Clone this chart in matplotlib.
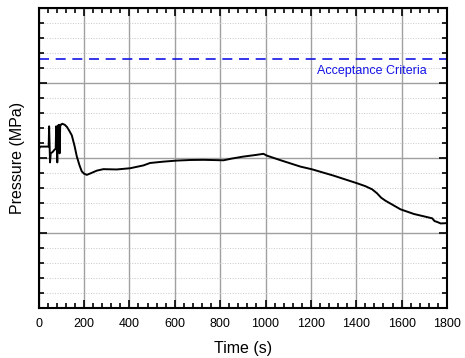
import numpy as np
import matplotlib.pyplot as plt
from matplotlib.ticker import MultipleLocator

plt.rcParams['font.family'] = ['Liberation Sans', 'DejaVu Sans']

# pressure history (y axis is unlabelled)
time = [0, 8, 30, 44, 46, 50, 53, 62, 70, 75, 77, 82, 85, 87, 89, 92, 95, 98, 104,
        115, 125, 135, 146, 158, 168, 180, 190, 200, 212, 230, 256, 285, 344, 403,
        462, 491, 550, 609, 670, 727, 815, 850, 900, 960, 991, 1006, 1065, 1154,
        1205, 1300, 1404, 1440, 1470, 1492, 1510, 1529, 1595, 1654, 1735, 1745,
        1760, 1772, 1800]
pressure = [10.6, 10.75, 10.75, 10.75, 12.1, 9.7, 10.3, 10.4, 10.55, 10.6, 12.1, 9.7,
            12.15, 11.0, 12.2, 10.3, 12.2, 12.2, 12.27, 12.2, 12.05, 11.8, 11.5, 10.8,
            10.1, 9.5, 9.1, 8.95, 8.87, 8.98, 9.15, 9.25, 9.23, 9.31, 9.5, 9.66, 9.75,
            9.82, 9.86, 9.87, 9.84, 9.95, 10.08, 10.2, 10.27, 10.15, 9.85, 9.42, 9.24,
            8.82, 8.31, 8.12, 7.91, 7.64, 7.35, 7.15, 6.58, 6.27, 5.98, 5.8, 5.72,
            5.64, 5.66]
criteria = 16.58
x_ticks = [0, 200, 400, 600, 800, 1000, 1200, 1400, 1600, 1800]

fig = plt.figure(figsize=(4.65, 3.58), dpi=100)
ax = fig.add_axes([0.0832, 0.139, 0.878, 0.840])

ax.plot(time, pressure, color='black', lw=1.4)
ax.axhline(criteria, color='#1414e6', lw=1.2, ls=(0, (6, 4)))
ax.text(1228, 15.75, 'Acceptance Criteria', color='#1414e6', fontsize=9,
        va='center', ha='left')

ax.set_xlim(0, 1800)
ax.set_ylim(0, 20)
ax.set_xticks(x_ticks)
ax.xaxis.set_minor_locator(MultipleLocator(40))
ax.yaxis.set_major_locator(MultipleLocator(5))
ax.yaxis.set_minor_locator(MultipleLocator(1))
ax.set_yticklabels([])

ax.grid(which='major', color='#a0a0a0', lw=1.0)
ax.grid(which='minor', axis='y', color='#c8c8c8', lw=0.7, ls=':')
ax.set_axisbelow(True)

ax.tick_params(which='both', direction='in', top=True, right=True, labelsize=9,
               width=1.2, pad=7)
ax.tick_params(which='major', length=6)
ax.tick_params(which='minor', length=3.5)
for s in ax.spines.values():
    s.set_linewidth(1.5)

ax.set_xlabel('Time (s)', fontsize=11.5, labelpad=8)
ax.set_ylabel('Pressure (MPa)', fontsize=11.5, labelpad=3)

fig.savefig('out.png', dpi=100)
